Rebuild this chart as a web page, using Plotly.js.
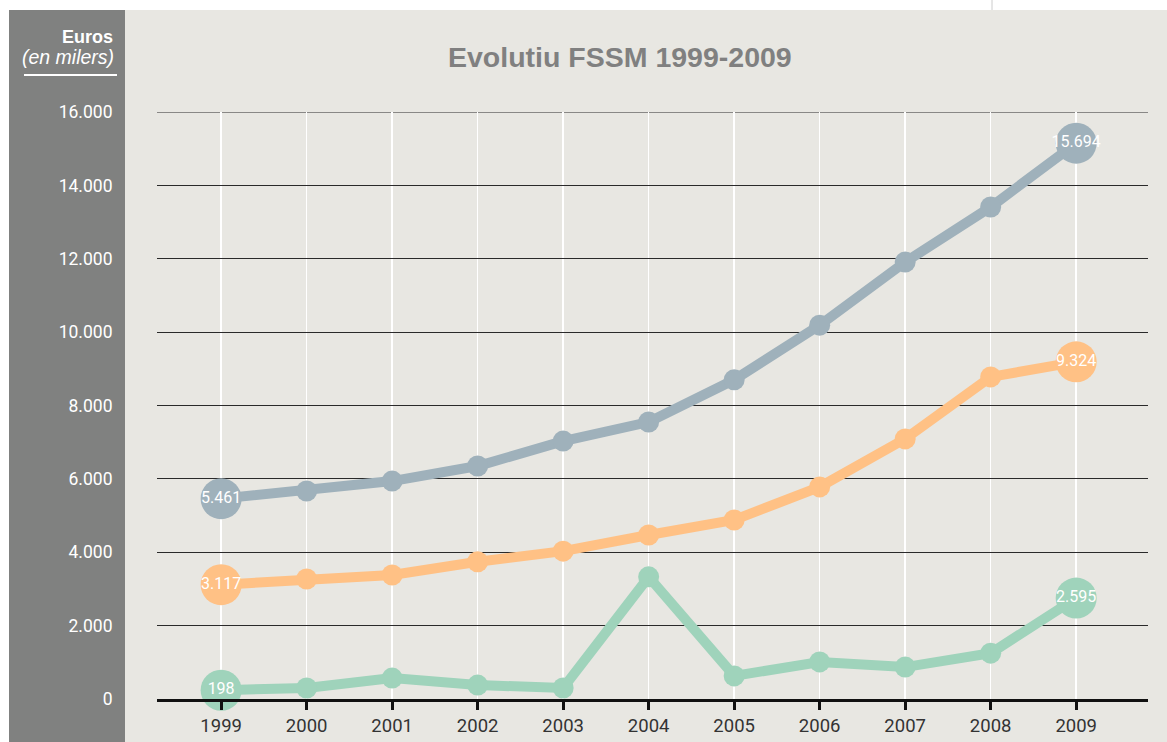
<!DOCTYPE html>
<html>
<head>
<meta charset="utf-8">
<script src="https://cdn.plot.ly/plotly-3.0.1.min.js"></script>
<style>html,body{margin:0;padding:0;background:#fff;}#chart{width:1167px;height:742px;}</style>
</head>
<body>
<div id="chart"></div>
<script>
const years = [1999,2000,2001,2002,2003,2004,2005,2006,2007,2008,2009];
const seriesGray   = [5461,5670,5940,6350,7030,7550,8700,10190,11910,13410,15150];
const seriesOrange = [3117,3270,3380,3740,4030,4470,4880,5780,7090,8780,9190];
const seriesGreen  = [240,300,570,380,300,3330,630,1010,870,1250,2750];
const endLabelsGray   = ["5.461","15.694"];
const endLabelsOrange = ["3.117","9.324"];
const endLabelsGreen  = ["198","2.595"];
const yTicks = [0,2000,4000,6000,8000,10000,12000,14000,16000];

const colGray = '#9fb1bb', colOrange = '#ffc185', colGreen = '#9fd3bb';

function lineTrace(y, c){
  return {x: years, y: y, mode:'lines+markers', line:{color:c, width:10},
    marker:{color:c, size:21}, cliponaxis:false, hoverinfo:'skip', showlegend:false};
}
function endTrace(y, c, labels){
  const n = y.length-1;
  return {x:[years[0], years[n]], y:[y[0], y[n]], mode:'markers+text',
    marker:{color:c, size:41}, text:labels, textposition:'middle center',
    textfont:{color:'#ffffff', size:16, family:'Roboto, Liberation Sans, sans-serif'},
    cliponaxis:false, hoverinfo:'skip', showlegend:false};
}

const data = [
  lineTrace(seriesGreen, colGreen), lineTrace(seriesOrange, colOrange), lineTrace(seriesGray, colGray),
  endTrace(seriesGreen, colGreen, endLabelsGreen), endTrace(seriesOrange, colOrange, endLabelsOrange), endTrace(seriesGray, colGray, endLabelsGray)
];

const topVal = yTicks[yTicks.length-1];

const layout = {
  width:1167, height:742,
  margin:{l:157, r:19, t:112, b:43},
  paper_bgcolor:'#ffffff', plot_bgcolor:'rgba(0,0,0,0)',
  separators:',.',
  showlegend:false,
  font:{family:'Roboto, Liberation Sans, sans-serif'},
  xaxis:{range:[1998.25,2009.84], tickvals:years, ticktext:years.map(String),
    showgrid:true, gridcolor:'#ffffff', gridwidth:1.5, zeroline:false,
    showline:true, linecolor:'#111111', linewidth:3,
    ticks:'outside', ticklen:8, tickwidth:3, tickcolor:'#111111',
    tickfont:{size:18.5, color:'#333333'}, fixedrange:true},
  yaxis:{range:[0,topVal], tickvals:yTicks, tickformat:',d',
    showgrid:true, gridcolor:'#2a2a2a', gridwidth:1, zeroline:false, showline:false,
    ticks:'outside', ticklen:40, tickcolor:'rgba(0,0,0,0)',
    tickfont:{size:17.5, color:'#ffffff'}, fixedrange:true},
  shapes:[
    {type:'rect', xref:'paper', yref:'paper', layer:'below', x0:-148/991, x1:-32/991, y0:-43/587, y1:(742-10-43)/587, fillcolor:'#808180', line:{width:0}},
    {type:'rect', xref:'paper', yref:'paper', layer:'below', x0:-32/991, x1:(1167-157)/991, y0:-43/587, y1:(742-10-43)/587, fillcolor:'#e8e7e2', line:{width:0}},
    {type:'line', xref:'paper', yref:'y', layer:'below', x0:0, x1:1, y0:topVal, y1:topVal, line:{color:'#2a2a2a', width:1}},
    {type:'line', xref:'paper', yref:'paper', x0:(992-157)/991, x1:(992-157)/991, y0:(742-10-43)/587, y1:(742-43)/587, line:{color:'#cccccc', width:1}},
    {type:'line', xref:'paper', yref:'paper', x0:(24-157)/991, x1:(117-157)/991, y0:(699-75)/587, y1:(699-75)/587, line:{color:'#ffffff', width:2}}
  ],
  annotations:[
    {xref:'paper', yref:'paper', x:(620-157)/991, y:(699-57)/587, xanchor:'center', yanchor:'middle', showarrow:false,
     text:'<b>Evolutiu FSSM 1999-2009</b>', font:{family:'Liberation Sans, Arial, sans-serif', size:28.5, color:'#808080'}},
    {xref:'paper', yref:'paper', x:(115-157)/991, y:(699-37)/587, xanchor:'right', yanchor:'middle', showarrow:false,
     text:'<b>Euros</b>', font:{family:'Liberation Sans, Arial, sans-serif', size:18, color:'#ffffff'}},
    {xref:'paper', yref:'paper', x:(116-157)/991, y:(699-57)/587, xanchor:'right', yanchor:'middle', showarrow:false,
     text:'<i>(en milers)</i>', font:{family:'Liberation Sans, Arial, sans-serif', size:19.5, color:'#ffffff'}}
  ]
};

Plotly.newPlot('chart', data, layout, {displayModeBar:false, staticPlot:true});
</script>
</body>
</html>
